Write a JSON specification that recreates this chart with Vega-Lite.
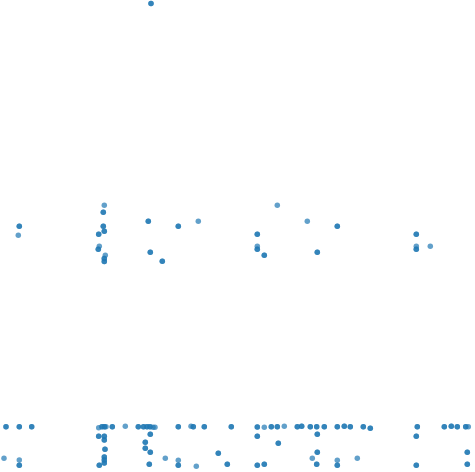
{
  "$schema": "https://vega.github.io/schema/vega-lite/v6.json",
  "width": 475,
  "height": 472,
  "autosize": {"type": "fit", "contains": "padding"},
  "padding": 0,
  "config": {"view": {"stroke": null}},
  "data": {"values": [
    {"x":104.3,"y":205.3},
    {"x":103.3,"y":212.3},{"x":103.3,"y":212.3},
    {"x":19.3,"y":226.3},{"x":19.3,"y":226.3},
    {"x":18.3,"y":235.3},
    {"x":103.3,"y":226.3},{"x":103.3,"y":226.3},
    {"x":104.3,"y":231.3},{"x":104.3,"y":231.3},
    {"x":98.7,"y":234.3},{"x":98.7,"y":234.3},
    {"x":99.3,"y":246.3},
    {"x":98.3,"y":249.3},{"x":98.3,"y":249.3},
    {"x":105.3,"y":255.3},
    {"x":104.3,"y":258.5},{"x":104.3,"y":258.5},
    {"x":104.3,"y":261.5},{"x":104.3,"y":261.5},
    {"x":148.3,"y":221.3},{"x":148.3,"y":221.3},
    {"x":178.3,"y":226.3},{"x":178.3,"y":226.3},
    {"x":198.3,"y":221.3},
    {"x":150.3,"y":252.3},{"x":150.3,"y":252.3},
    {"x":162.3,"y":261.3},{"x":162.3,"y":261.3},
    {"x":277.3,"y":205.3},
    {"x":307.3,"y":221.3},
    {"x":337.3,"y":226.3},{"x":337.3,"y":226.3},
    {"x":257.3,"y":234.3},{"x":257.3,"y":234.3},
    {"x":257.3,"y":246.3},
    {"x":257.3,"y":249.3},{"x":257.3,"y":249.3},
    {"x":264.3,"y":255.3},{"x":264.3,"y":255.3},
    {"x":317.3,"y":252.3},{"x":317.3,"y":252.3},
    {"x":416.3,"y":234.3},{"x":416.3,"y":234.3},
    {"x":416.3,"y":246.3},
    {"x":416.3,"y":249.3},{"x":416.3,"y":249.3},
    {"x":430.3,"y":246.3},
    {"x":151,"y":3.5},{"x":151,"y":3.5},
    {"x":6,"y":426.7},{"x":6,"y":426.7},
    {"x":19.3,"y":426.7},{"x":19.3,"y":426.7},
    {"x":31.7,"y":426.7},{"x":31.7,"y":426.7},
    {"x":4,"y":458.3},
    {"x":19.3,"y":460},
    {"x":19.3,"y":465.3},{"x":19.3,"y":465.3},
    {"x":98.7,"y":427.7},
    {"x":102,"y":426.7},{"x":102,"y":426.7},
    {"x":104.5,"y":426.7},{"x":104.5,"y":426.7},
    {"x":106,"y":426.7},
    {"x":112.3,"y":426.7},{"x":112.3,"y":426.7},
    {"x":125.3,"y":426.3},
    {"x":138.3,"y":426.7},{"x":138.3,"y":426.7},
    {"x":143.5,"y":426.7},{"x":143.5,"y":426.7},
    {"x":147,"y":426.7},{"x":147,"y":426.7},
    {"x":150,"y":426.7},{"x":150,"y":426.7},
    {"x":153,"y":427.3},
    {"x":155,"y":427.3},
    {"x":98.7,"y":436.3},{"x":98.7,"y":436.3},
    {"x":104.3,"y":436.3},{"x":104.3,"y":436.3},
    {"x":104.3,"y":440},{"x":104.3,"y":440},
    {"x":105,"y":449.3},{"x":105,"y":449.3},
    {"x":104.3,"y":457},{"x":104.3,"y":457},
    {"x":104.3,"y":460},{"x":104.3,"y":460},
    {"x":104.3,"y":463},{"x":104.3,"y":463},
    {"x":99.3,"y":465.3},{"x":99.3,"y":465.3},
    {"x":150.3,"y":434.3},{"x":150.3,"y":434.3},
    {"x":145.3,"y":442.3},{"x":145.3,"y":442.3},
    {"x":145.3,"y":448.3},{"x":145.3,"y":448.3},
    {"x":150.3,"y":452.3},{"x":150.3,"y":452.3},
    {"x":149.3,"y":464.3},{"x":149.3,"y":464.3},
    {"x":178.3,"y":426.7},{"x":178.3,"y":426.7},
    {"x":191,"y":426.3},
    {"x":193.3,"y":426.7},{"x":193.3,"y":426.7},
    {"x":204.3,"y":426.7},{"x":204.3,"y":426.7},
    {"x":231.3,"y":426.7},{"x":231.3,"y":426.7},
    {"x":257.3,"y":427},{"x":257.3,"y":427},
    {"x":264.3,"y":427.3},
    {"x":271.3,"y":426.7},{"x":271.3,"y":426.7},
    {"x":277.3,"y":426.7},{"x":277.3,"y":426.7},
    {"x":284.3,"y":426.3},
    {"x":297.3,"y":426.7},{"x":297.3,"y":426.7},
    {"x":301.7,"y":426.3},{"x":301.7,"y":426.3},
    {"x":310.3,"y":426.7},{"x":310.3,"y":426.7},
    {"x":257.3,"y":436.3},{"x":257.3,"y":436.3},
    {"x":278.3,"y":443.3},{"x":278.3,"y":443.3},
    {"x":218.3,"y":453.3},{"x":218.3,"y":453.3},
    {"x":165.3,"y":458.3},
    {"x":178.3,"y":460.3},
    {"x":178.3,"y":465.3},{"x":178.3,"y":465.3},
    {"x":196.3,"y":466.3},
    {"x":227.3,"y":464.3},{"x":227.3,"y":464.3},
    {"x":257.3,"y":465.3},{"x":257.3,"y":465.3},
    {"x":264.3,"y":464.3},{"x":264.3,"y":464.3},
    {"x":312.3,"y":458.3},
    {"x":316.7,"y":426.7},{"x":316.7,"y":426.7},
    {"x":324.3,"y":426.7},{"x":324.3,"y":426.7},
    {"x":337.3,"y":426.7},{"x":337.3,"y":426.7},
    {"x":344.3,"y":426.3},{"x":344.3,"y":426.3},
    {"x":350.3,"y":426.7},{"x":350.3,"y":426.7},
    {"x":363.3,"y":426.7},{"x":363.3,"y":426.7},
    {"x":370.3,"y":428.3},{"x":370.3,"y":428.3},
    {"x":317.3,"y":434.3},{"x":317.3,"y":434.3},
    {"x":317.3,"y":452.3},{"x":317.3,"y":452.3},
    {"x":316.7,"y":464.3},{"x":316.7,"y":464.3},
    {"x":337.3,"y":460.3},
    {"x":337.3,"y":465.3},{"x":337.3,"y":465.3},
    {"x":357.3,"y":458.3},
    {"x":417.3,"y":426.7},{"x":417.3,"y":426.7},
    {"x":416.3,"y":436.3},{"x":416.3,"y":436.3},
    {"x":416.3,"y":465.3},{"x":416.3,"y":465.3},
    {"x":444.3,"y":426.7},{"x":444.3,"y":426.7},
    {"x":451.3,"y":426.3},{"x":451.3,"y":426.3},
    {"x":457.3,"y":426.7},{"x":457.3,"y":426.7},
    {"x":465.7,"y":426.7},{"x":465.7,"y":426.7},
    {"x":468.3,"y":426.7},
    {"x":467.3,"y":452.3},{"x":467.3,"y":452.3},
    {"x":467.3,"y":464.3},{"x":467.3,"y":464.3}
  ]},
  "mark": {"type": "circle", "clip": true, "color": "#1f77b4", "size": 30},
  "encoding": {
    "x": {"field": "x", "type": "quantitative", "scale": {"domain": [0, 475], "nice": false, "zero": false}, "axis": null},
    "y": {"field": "y", "type": "quantitative", "scale": {"domain": [0, 472], "nice": false, "zero": false, "reverse": true}, "axis": null}
  }
}
